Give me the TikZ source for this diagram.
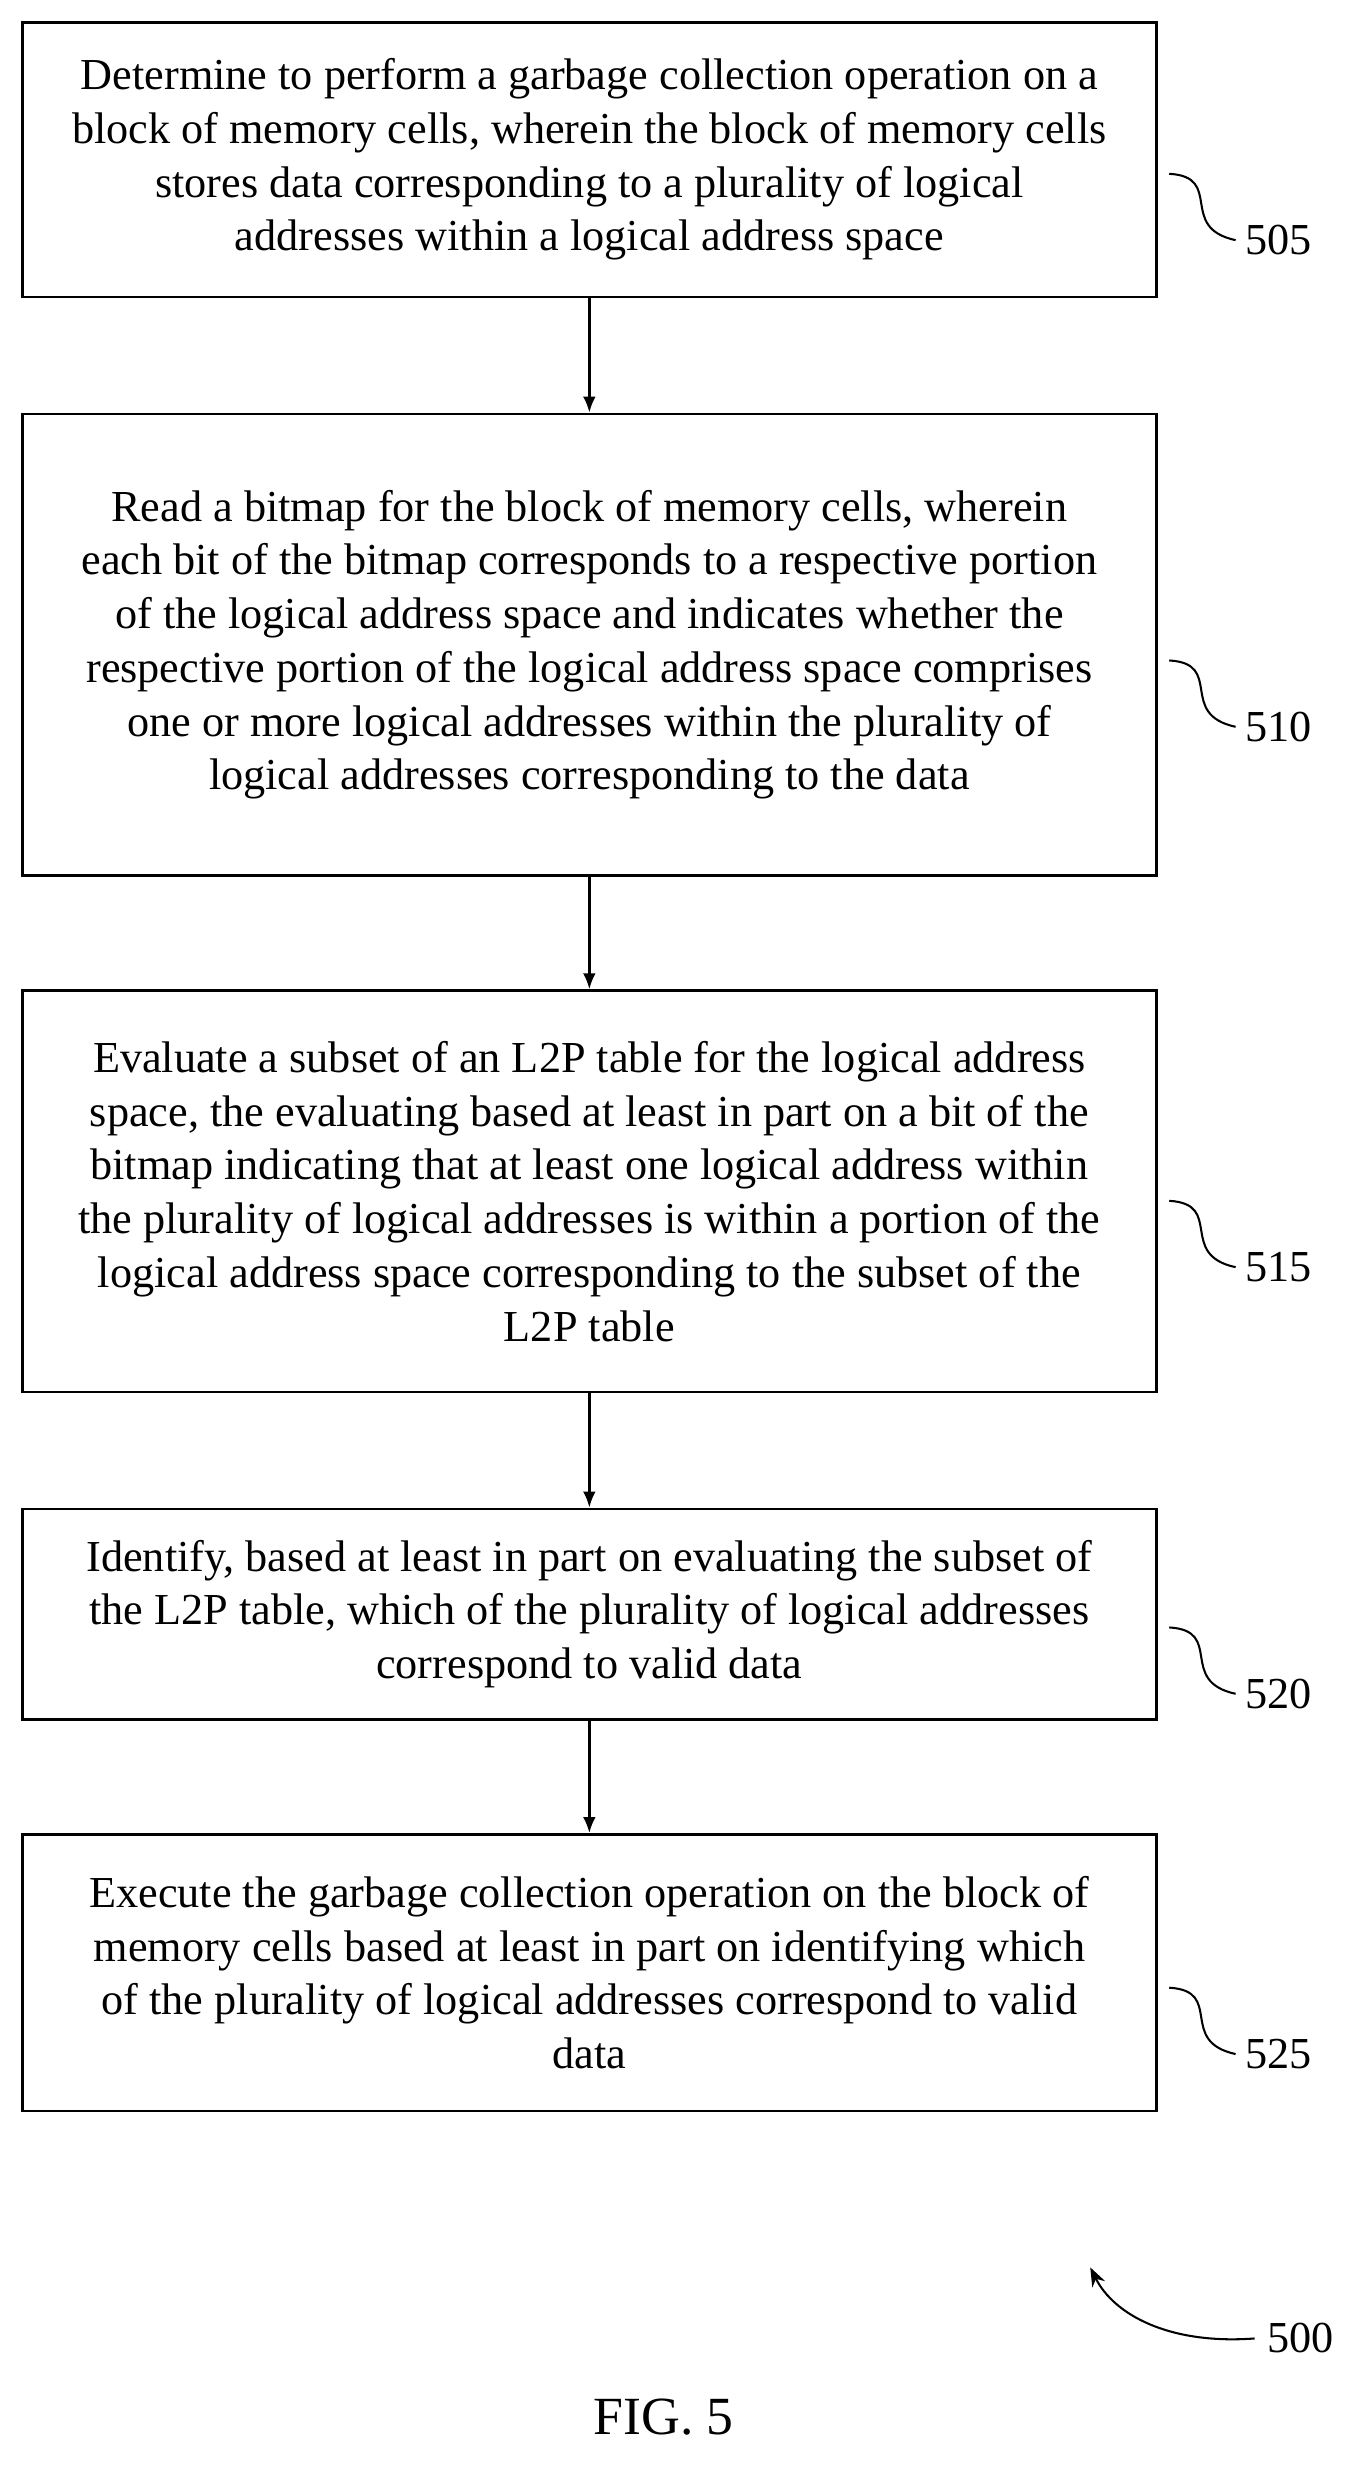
\documentclass[tikz,border=0pt]{standalone}
\usepackage{fontspec}
\setmainfont{Liberation Serif}
\usetikzlibrary{arrows.meta}
\begin{document}
\begin{tikzpicture}[x=1pt,y=-1pt,
 box/.style={draw,line width=1.8pt,minimum width=718pt,align=center,inner sep=0pt,font=\fontsize{28}{34}\selectfont},
 lab/.style={font=\fontsize{28}{30}\selectfont,anchor=west,inner sep=0pt},
 arr/.style={-{Latex[length=10pt,width=8pt]},line width=1.5pt},
 sq/.style={line width=1.3pt}]
\useasboundingbox (0,0) rectangle (862,1562);
\node[box,minimum height=174pt] (b1) at (373,101) {Determine to perform a garbage collection operation on a\\block of memory cells, wherein the block of memory cells\\stores data corresponding to a plurality of logical\\addresses within a logical address space};
\node[box,minimum height=292pt] (b2) at (373,408) {Read a bitmap for the block of memory cells, wherein\\each bit of the bitmap corresponds to a respective portion\\of the logical address space and indicates whether the\\respective portion of the logical address space comprises\\one or more logical addresses within the plurality of\\logical addresses corresponding to the data};
\node[box,minimum height=254pt] (b3) at (373,754) {Evaluate a subset of an L2P table for the logical address\\space, the evaluating based at least in part on a bit of the\\bitmap indicating that at least one logical address within\\the plurality of logical addresses is within a portion of the\\logical address space corresponding to the subset of the\\L2P table};
\node[box,minimum height=133pt] (b4) at (373,1021.5) {Identify, based at least in part on evaluating the subset of\\the L2P table, which of the plurality of logical addresses\\correspond to valid data};
\node[box,minimum height=175pt] (b5) at (373,1248.5) {Execute the garbage collection operation on the block of\\memory cells based at least in part on identifying which\\of the plurality of logical addresses correspond to valid\\data};
\draw[arr] (b1) -- (b2);
\draw[arr] (b2) -- (b3);
\draw[arr] (b3) -- (b4);
\draw[arr] (b4) -- (b5);
\foreach \n/\y in {505/152,510/460,515/802,520/1072,525/1300}{
 \node[lab] (l\n) at (788,\y) {\n};
 \draw[sq] (740,\y-42) .. controls (775,\y-40) and (745,\y-8) .. ([xshift=-6pt]l\n.west);
}
\node[lab] (l500) at (802,1480) {500};
\coordinate (a500) at (690,1435);
\draw[sq,-{Stealth[length=12pt,width=9pt]}] ([xshift=-8pt]l500.west) .. controls (740,1484) and (705,1465) .. (a500);
\node[font=\fontsize{34}{38}\selectfont] (fig) at (420,1530) {FIG. 5};
\end{tikzpicture}
\end{document}
